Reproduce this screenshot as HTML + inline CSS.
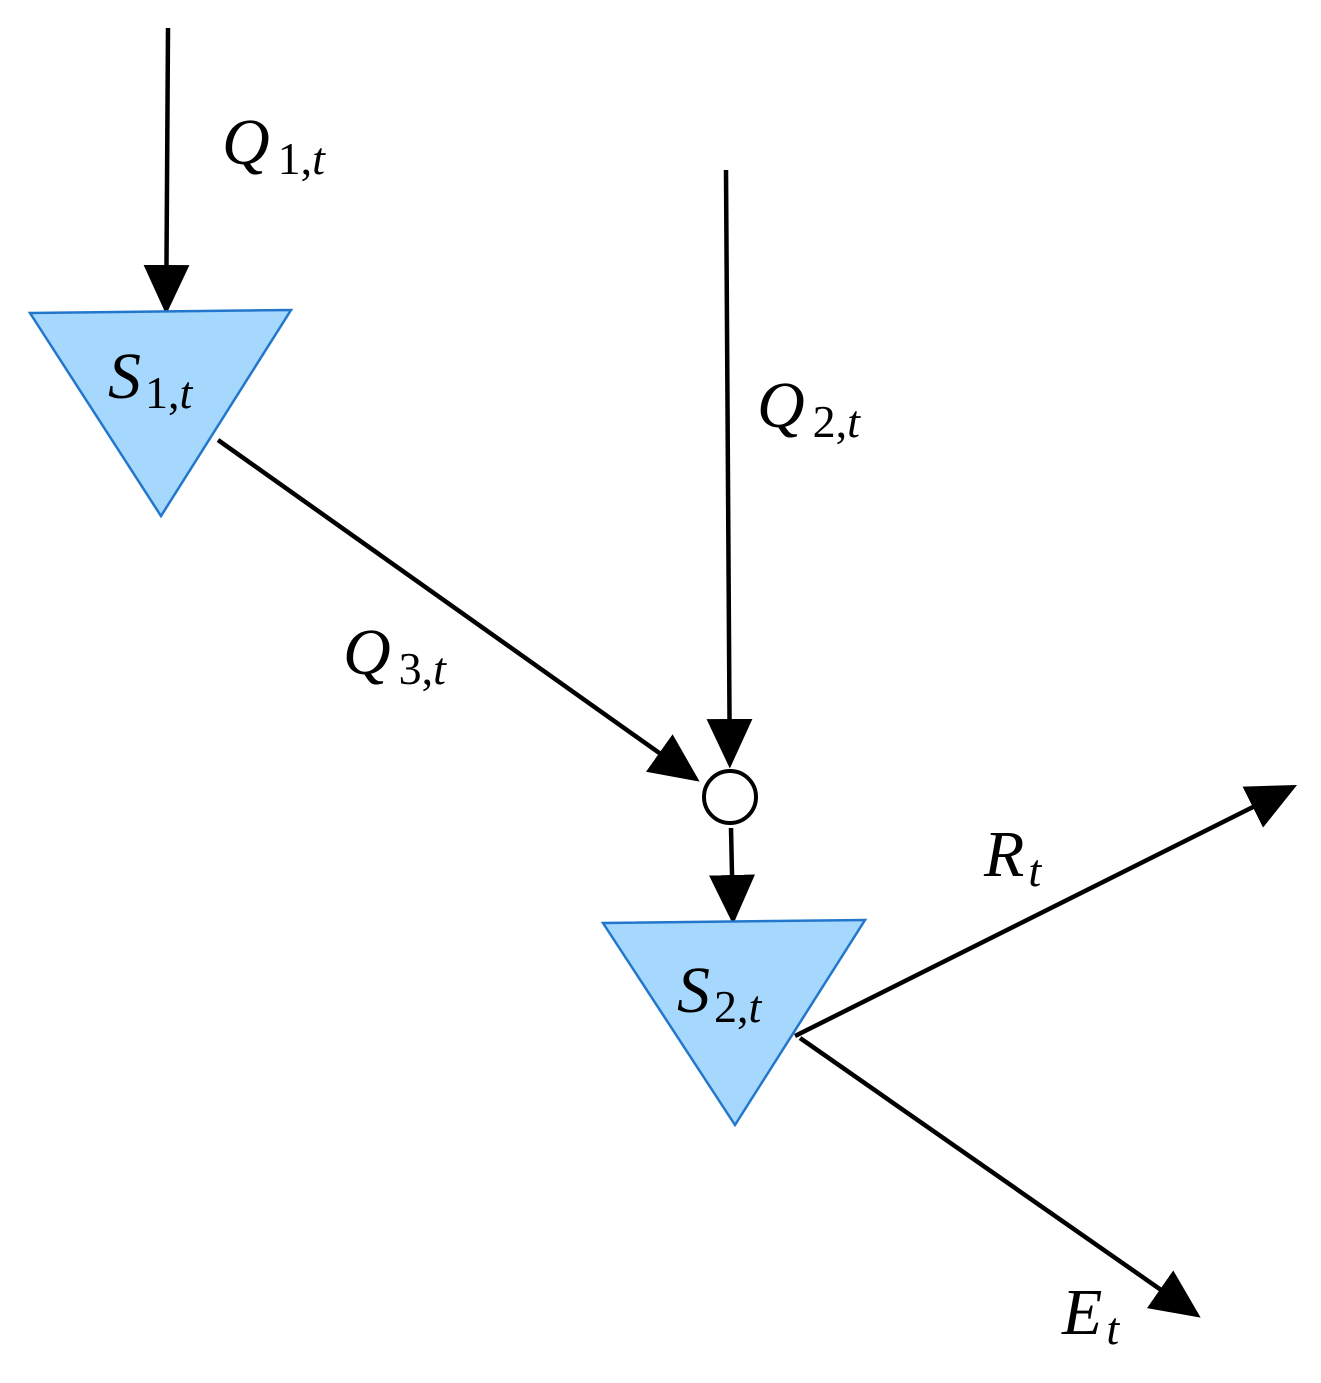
<!DOCTYPE html>
<html><head><meta charset="utf-8"><style>
html,body{margin:0;padding:0;background:#fff;}
svg text{font-family:"Liberation Serif",serif;font-style:italic;fill:#000;}
.s{font-style:normal;}
</style></head><body>
<svg width="1321" height="1378" viewBox="0 0 1321 1378" xmlns="http://www.w3.org/2000/svg">
<defs>
<marker id="a" markerWidth="11" markerHeight="11" refX="10" refY="5.5" orient="auto" markerUnits="strokeWidth">
<path d="M0,0.4 L11,5.5 L0,10.6 Z" fill="#000"/>
</marker>
</defs>
<g stroke="#000" stroke-width="4.5" fill="none">
<line x1="168" y1="28" x2="166.2" y2="310" marker-end="url(#a)"/>
<line x1="726" y1="170" x2="729.8" y2="764" marker-end="url(#a)"/>
<line x1="218" y1="440" x2="696" y2="779" marker-end="url(#a)"/>
<line x1="731" y1="828" x2="733" y2="920" marker-end="url(#a)"/>
<line x1="795" y1="1036" x2="1293" y2="787" marker-end="url(#a)"/>
<line x1="800" y1="1038" x2="1197" y2="1315" marker-end="url(#a)"/>
</g>
<polygon points="30,313 291,310 161,516" fill="#a6d8fe" stroke="#2277cc" stroke-width="2.5"/>
<polygon points="603,923 865,920 735,1125" fill="#a6d8fe" stroke="#2277cc" stroke-width="2.5"/>
<circle cx="730" cy="797" r="26" fill="#fff" stroke="#000" stroke-width="4"/>
<text x="222" y="164" font-size="66">Q<tspan class="s" font-size="46" dx="8" dy="10">1,</tspan><tspan font-size="46">t</tspan></text>
<text x="108" y="398" font-size="66">S<tspan class="s" font-size="46" dx="4" dy="10">1,</tspan><tspan font-size="46">t</tspan></text>
<text x="757" y="427" font-size="66">Q<tspan class="s" font-size="46" dx="8" dy="10">2,</tspan><tspan font-size="46">t</tspan></text>
<text x="343" y="674" font-size="66">Q<tspan class="s" font-size="46" dx="8" dy="10">3,</tspan><tspan font-size="46">t</tspan></text>
<text x="677" y="1012" font-size="66">S<tspan class="s" font-size="46" dx="4" dy="10">2,</tspan><tspan font-size="46">t</tspan></text>
<text x="984" y="876" font-size="66">R<tspan font-size="46" dx="4" dy="10">t</tspan></text>
<text x="1062" y="1334" font-size="66">E<tspan font-size="46" dx="4" dy="10">t</tspan></text>
</svg>
</body></html>
